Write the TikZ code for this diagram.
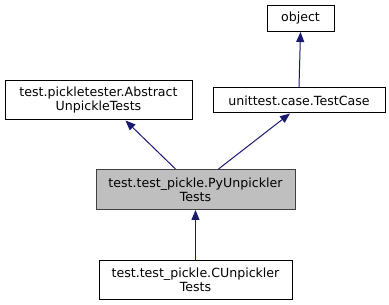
\documentclass[tikz,border=0pt]{standalone}
\usepackage{fontspec}
\setmainfont{DejaVu Sans}
\usetikzlibrary{arrows.meta,calc}
\definecolor{edgeblue}{HTML}{191970}
\definecolor{curfill}{HTML}{BFBFBF}
\definecolor{curline}{HTML}{404040}
\tikzset{
  cls/.style={draw=black, fill=white, line width=1pt, inner sep=0pt, align=center,
    font=\fontsize{12.6}{14}\selectfont},
  current/.style={cls, draw=curline, fill=curfill},
  inherit/.style={draw=edgeblue, line width=1pt,
    -{Triangle[length=10pt,width=8pt,fill=edgeblue]}}
}
\begin{document}
\begin{tikzpicture}[x=1pt,y=-1pt]
\useasboundingbox (0,0) rectangle (389,305);
\node[cls, minimum width=67pt, minimum height=26pt] (obj) at (300.5,18.5) {object};
\node[cls, minimum width=172pt, minimum height=25pt] (tc) at (299,100.5) {unittest.case.TestCase};
\node[cls, minimum width=187pt, minimum height=39pt] (abs) at (98.5,100.5) {test.pickletester.Abstract\\UnpickleTests};
\node[current, minimum width=199pt, minimum height=40pt] (py) at (195.5,189.5) {test.test\_pickle.PyUnpickler\\Tests};
\node[cls, minimum width=193pt, minimum height=39pt] (cu) at (195.5,280) {test.test\_pickle.CUnpickler\\Tests};
\draw[inherit] (tc.north) -- (obj.south);
\draw[inherit] ($(py.north)+(-20,0)$) -- ($(abs.south)+(27,0)$);
\draw[inherit] ($(py.north)+(23,0)$) -- ($(tc.south)+(-9,0)$);
\draw[inherit] (cu.north) -- (py.south);
\end{tikzpicture}
\end{document}
